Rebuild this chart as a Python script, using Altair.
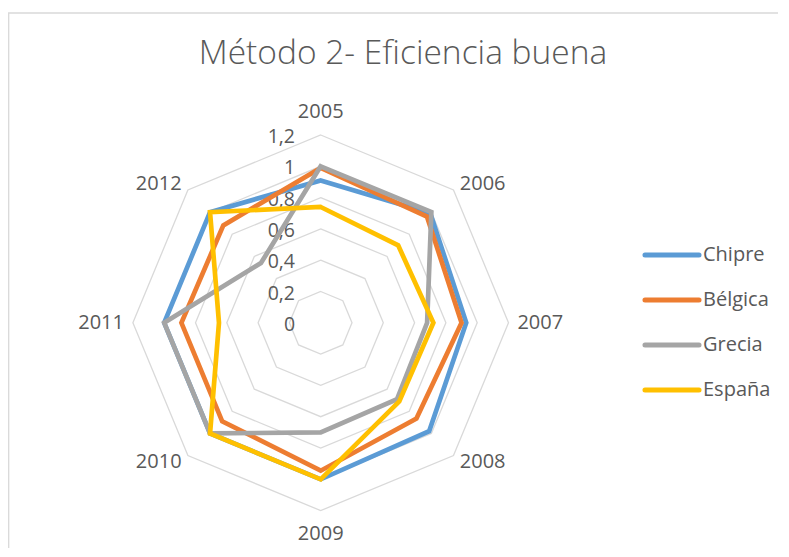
import altair as alt
import pandas as pd

# ---------------- data ----------------
categories = ["2005", "2006", "2007", "2008", "2009", "2010", "2011", "2012"]
series_names = ["Chipre", "Bélgica", "Grecia", "España"]
chipre = [0.91, 0.99, 0.93, 0.98, 1.00, 1.00, 1.00, 1.00]
belgica = [0.99, 0.96, 0.90, 0.865, 0.945, 0.89, 0.89, 0.88]
grecia = [1.00, 1.00, 0.68, 0.69, 0.70, 1.00, 1.00, 0.54]
espana = [0.74, 0.70, 0.72, 0.71, 1.00, 1.00, 0.65, 1.00]
series_colors = ["#5B9BD5", "#ED7D31", "#A5A5A5", "#FFC000"]
grid_levels = [0.2, 0.4, 0.6, 0.8, 1.0, 1.2]
tick_values = [0.0, 0.2, 0.4, 0.6, 0.8, 1.0, 1.2]
tick_labels = ["0", "0,2", "0,4", "0,6", "0,8", "1", "1,2"]
title_text = "Método 2- Eficiencia buena"

# ---------------- layout ----------------
W, H = 770, 540
UNIT = 156.5
CX, CY = 312.7, 314.8
X0, X1 = -CX / UNIT, (W - CX) / UNIT
Y0, Y1 = -(H - CY) / UNIT, CY / UNIT
FONT = "Open Sans"
TXT = "#595959"
GRID = "#D9D9D9"
N = len(categories)
ANGLE = f"PI/2 - datum.i*2*PI/{N}"

xs = alt.Scale(domain=[X0, X1], nice=False, zero=False)
ys = alt.Scale(domain=[Y0, Y1], nice=False, zero=False)


def X(f):
    return alt.X(f, type="quantitative", scale=xs, axis=None)


def Y(f):
    return alt.Y(f, type="quantitative", scale=ys, axis=None)


layers = []

# border (top and left edges of the Excel chart area) as one polyline
ytop = Y1 - 5 / UNIT
xleft = X0 + 0.7 / UNIT
border_df = pd.DataFrame({"o": [0, 1, 2], "bx": [X1, xleft, xleft], "by": [ytop, ytop, Y0]})
layers.append(
    alt.Chart(border_df).mark_line(color=GRID, strokeWidth=1.3).encode(
        x=X("bx"), y=Y("by"), order=alt.Order("o:Q")
    )
)

# grid octagons
grid_df = pd.DataFrame([{"lvl": l, "i": i} for l in grid_levels for i in range(N)])
layers.append(
    alt.Chart(grid_df).transform_calculate(
        a=ANGLE, px="datum.lvl*cos(datum.a)", py="datum.lvl*sin(datum.a)"
    ).mark_line(interpolate="linear-closed", color=GRID, strokeWidth=1.3).encode(
        x=X("px"), y=Y("py"), order=alt.Order("i:Q"), detail="lvl:N"
    )
)

# tick labels
tick_df = pd.DataFrame({"v": tick_values, "lab": tick_labels})
layers.append(
    alt.Chart(tick_df).transform_calculate(px="-0.164").mark_text(
        align="right", baseline="middle", dy=2, font=FONT, fontSize=19.5, color=TXT
    ).encode(x=X("px"), y=Y("v"), text="lab:N")
)

# series
for name, vals, col in zip(series_names, [chipre, belgica, grecia, espana], series_colors):
    sdf = pd.DataFrame({"i": list(range(N)), "cat": categories, "v": vals, "serie": name})
    layers.append(
        alt.Chart(sdf).transform_calculate(
            a=ANGLE, px="datum.v*cos(datum.a)", py="datum.v*sin(datum.a)"
        ).mark_line(interpolate="linear-closed", color=col, strokeWidth=4.7).encode(
            x=X("px"), y=Y("py"), order=alt.Order("i:Q")
        )
    )

# category labels
cat_df = pd.DataFrame({"i": list(range(N)), "cat": categories})
for idxs, align, r in [([1, 2, 3], "left", 1.257), ([5, 6, 7], "right", 1.257), ([0, 4], "center", 1.35)]:
    layers.append(
        alt.Chart(cat_df).transform_filter(
            alt.FieldOneOfPredicate(field="i", oneOf=idxs)
        ).transform_calculate(
            a=ANGLE, px=f"{r}*cos(datum.a)", py=f"{r}*sin(datum.a)"
        ).mark_text(align=align, baseline="middle", font=FONT, fontSize=20, color=TXT).encode(
            x=X("px"), y=Y("py"), text="cat:N"
        )
    )

# legend
leg_df = pd.DataFrame({"k": list(range(len(series_names))), "serie": series_names, "col": series_colors})
leg_base = alt.Chart(leg_df).transform_calculate(
    ly="0.4329 - datum.k*0.28754", lx="2.0722", lx2="2.4173", tx="2.4428"
)
layers.append(
    leg_base.mark_rule(strokeWidth=5, strokeCap="round").encode(
        x=X("lx"), x2="lx2:Q", y=Y("ly"), color=alt.Color("col:N", scale=None)
    )
)
layers.append(
    leg_base.mark_text(align="left", baseline="middle", font=FONT, fontSize=20, color=TXT).encode(
        x=X("tx"), y=Y("ly"), text="serie:N"
    )
)

# title
title_df = pd.DataFrame({"t": [title_text]})
layers.append(
    alt.Chart(title_df).mark_text(
        align="center", baseline="alphabetic", font=FONT, fontSize=33.5, fontWeight=300, color=TXT
    ).encode(x=alt.value(395), y=alt.value(56), text="t:N")
)

chart = alt.layer(*layers).properties(
    width=W, height=H, autosize=alt.AutoSizeParams(type="none"), padding=0
).configure_view(stroke=None)

chart.save("out.html", embed_options={"renderer": "svg", "actions": False})
